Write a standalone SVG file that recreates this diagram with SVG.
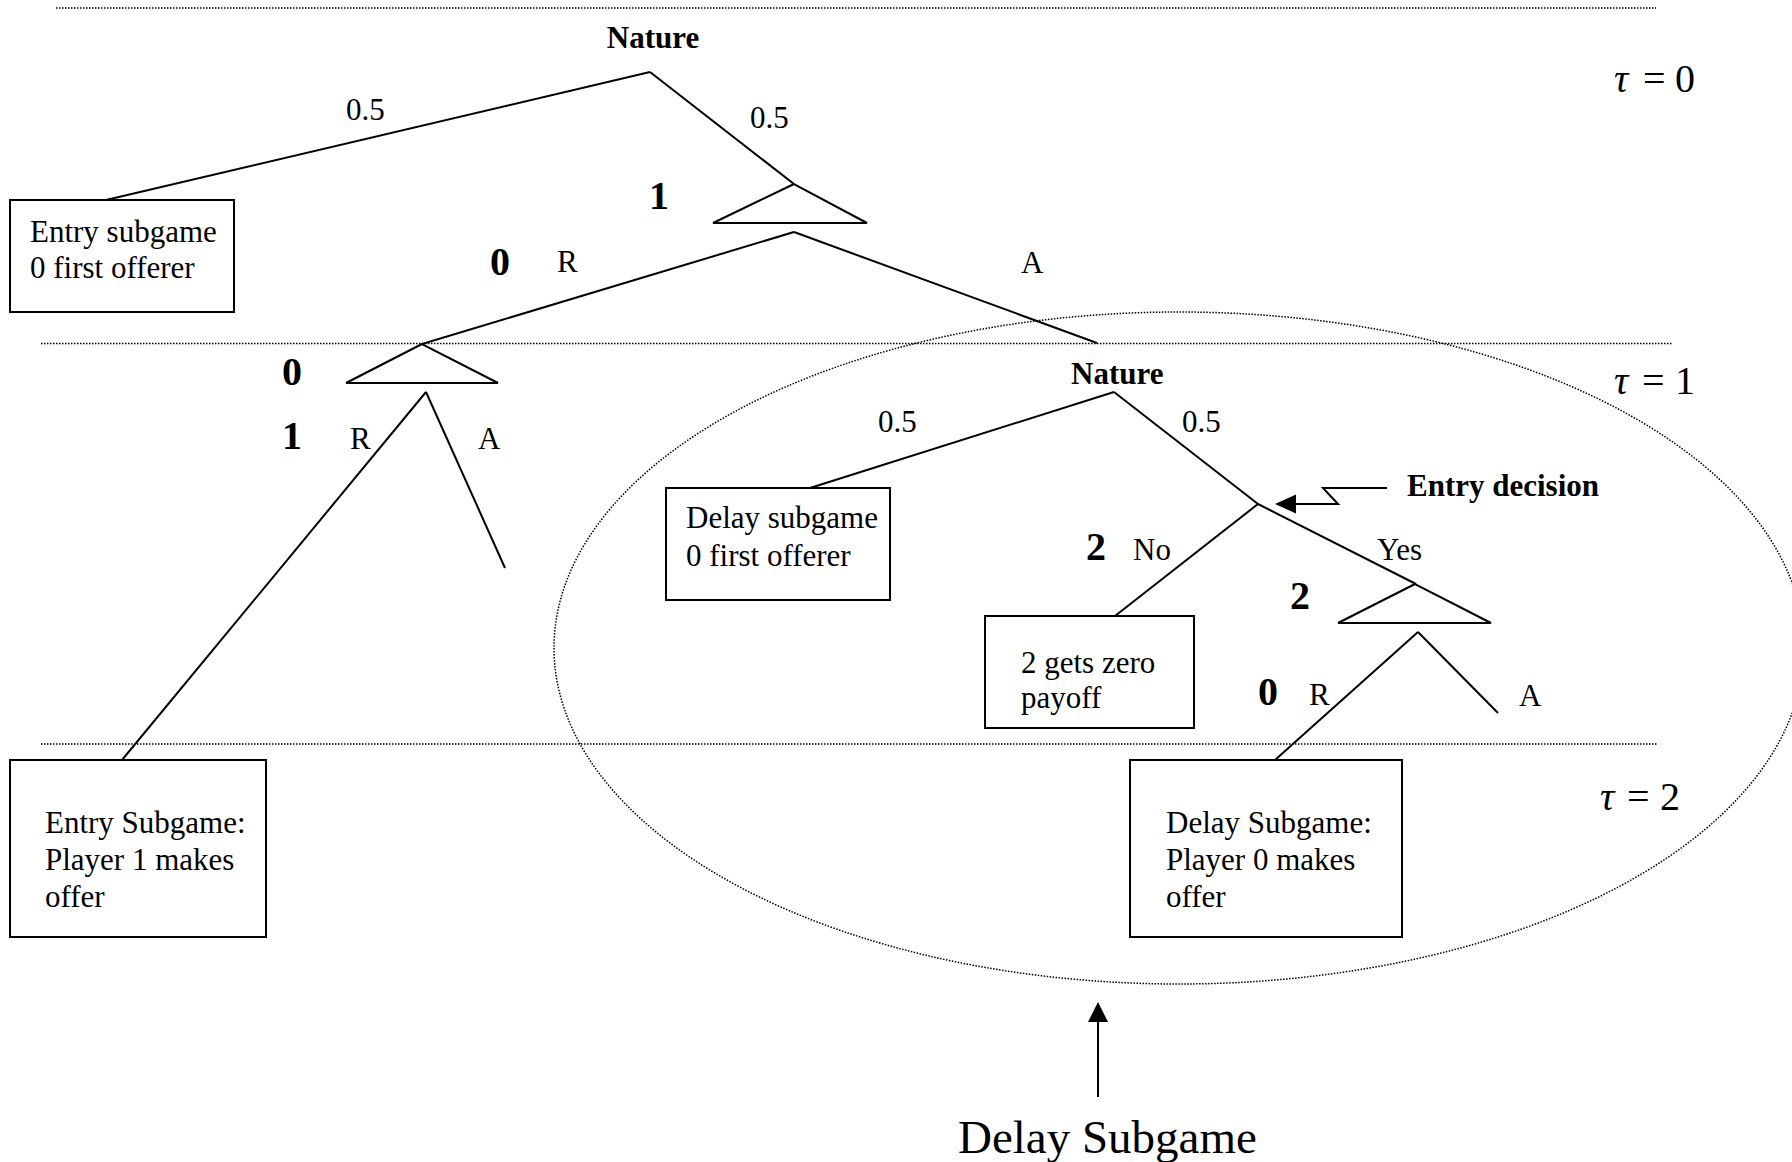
<svg xmlns="http://www.w3.org/2000/svg" width="1792" height="1162" viewBox="0 0 1792 1162">
<defs>
<style>
.t{font-family:"Liberation Serif","Times New Roman",serif;font-size:31px;fill:#000}
.b{font-family:"Liberation Serif","Times New Roman",serif;font-size:31px;font-weight:bold;fill:#000}
.n{font-family:"Liberation Serif","Times New Roman",serif;font-size:40px;font-weight:bold;fill:#000}
.tau{font-family:"Liberation Serif","Times New Roman",serif;font-size:40px;fill:#000}
.big{font-family:"Liberation Serif","Times New Roman",serif;font-size:47px;fill:#000}
.e{stroke:#000;stroke-width:2;fill:none}
.box{stroke:#000;stroke-width:2;fill:#fff}
.tri{stroke:#000;stroke-width:2;fill:none;stroke-linejoin:miter}
.dot{stroke:#000;stroke-width:1.5;stroke-dasharray:1.5 1.5;fill:none}
</style>
</defs>
<rect width="1792" height="1162" fill="#fff"/>
<g id="period-lines">
<line class="dot" x1="56" y1="8" x2="1656" y2="8"/>
<line class="dot" x1="41" y1="343.5" x2="1673" y2="343.5"/>
<line class="dot" x1="41" y1="744" x2="1657" y2="744"/>
</g>
<g id="delay-region">
<ellipse class="dot" cx="1179" cy="648" rx="625" ry="336" stroke-width="1.3"/>
</g>
<g id="connectors">
<line class="e" x1="650" y1="72" x2="106" y2="200"/>
<line class="e" x1="650" y1="72" x2="794" y2="184"/>
<line class="e" x1="794" y1="232" x2="422" y2="344"/>
<line class="e" x1="794" y1="232" x2="1097" y2="343"/>
<line class="e" x1="426" y1="392" x2="122" y2="760"/>
<line class="e" x1="426" y1="392" x2="505" y2="568"/>
<line class="e" x1="1114" y1="392" x2="810" y2="488"/>
<line class="e" x1="1114" y1="392" x2="1258" y2="504"/>
<line class="e" x1="1258" y1="504" x2="1115" y2="616"/>
<line class="e" x1="1258" y1="504" x2="1416" y2="584"/>
<line class="e" x1="1418" y1="632" x2="1275" y2="760"/>
<line class="e" x1="1418" y1="632" x2="1498" y2="713"/>
</g>
<g id="nature-top">
<text class="b" x="653" y="48" text-anchor="middle">Nature</text>
<text class="t" x="346" y="120">0.5</text>
<text class="t" x="750" y="128">0.5</text>
</g>
<g id="entry-subgame-0">
<rect class="box" x="10" y="200" width="224" height="112"/>
<text class="t" x="30" y="242">Entry subgame</text>
<text class="t" x="30" y="278">0 first offerer</text>
</g>
<g id="node-player1">
<polygon class="tri" points="794,184 713,223 867,223"/>
<text class="n" x="649" y="209">1</text>
<text class="n" x="490" y="275">0</text>
<text class="t" x="557" y="272">R</text>
<text class="t" x="1021" y="273">A</text>
</g>
<g id="node-player0">
<polygon class="tri" points="422,344 346,383 498,383"/>
<text class="n" x="282" y="385">0</text>
<text class="n" x="282" y="449">1</text>
<text class="t" x="350" y="449">R</text>
<text class="t" x="478" y="449">A</text>
</g>
<g id="nature-1">
<text class="b" x="1071" y="384">Nature</text>
<text class="t" x="878" y="432">0.5</text>
<text class="t" x="1182" y="432">0.5</text>
</g>
<g id="delay-subgame-1">
<rect class="box" x="666" y="488" width="224" height="112"/>
<text class="t" x="686" y="528">Delay subgame</text>
<text class="t" x="686" y="566">0 first offerer</text>
</g>
<g id="entry-decision">
<path class="e" d="M1387,488 L1323,488 L1338,504 L1293,504"/>
<polygon points="1275,504 1296,494.5 1296,513.5" fill="#000"/>
<text class="b" x="1407" y="496">Entry decision</text>
<text class="n" x="1086" y="560">2</text>
<text class="t" x="1133" y="560">No</text>
<text class="t" x="1377" y="560">Yes</text>
</g>
<g id="zero-payoff">
<rect class="box" x="985" y="616" width="209" height="112"/>
<text class="t" x="1021" y="673">2 gets zero</text>
<text class="t" x="1021" y="708">payoff</text>
</g>
<g id="node-player2">
<polygon class="tri" points="1415,584 1338,623 1491,623"/>
<text class="n" x="1290" y="609">2</text>
<text class="n" x="1258" y="705">0</text>
<text class="t" x="1309" y="705">R</text>
<text class="t" x="1519" y="706">A</text>
</g>
<g id="entry-subgame-2">
<rect class="box" x="10" y="760" width="256" height="177"/>
<text class="t" x="45" y="833">Entry Subgame:</text>
<text class="t" x="45" y="870">Player 1 makes</text>
<text class="t" x="45" y="907">offer</text>
</g>
<g id="delay-subgame-2">
<rect class="box" x="1130" y="760" width="272" height="177"/>
<text class="t" x="1166" y="833">Delay Subgame:</text>
<text class="t" x="1166" y="870">Player 0 makes</text>
<text class="t" x="1166" y="907">offer</text>
</g>
<g id="tau-labels">
<text class="tau" y="92"><tspan x="1614" font-style="italic">τ</tspan><tspan x="1643">=</tspan><tspan x="1675">0</tspan></text>
<text class="tau" y="394"><tspan x="1614" font-style="italic">τ</tspan><tspan x="1642">=</tspan><tspan x="1675">1</tspan></text>
<text class="tau" y="810"><tspan x="1600" font-style="italic">τ</tspan><tspan x="1627">=</tspan><tspan x="1660">2</tspan></text>
</g>
<g id="delay-subgame-label">
<line class="e" x1="1098" y1="1097" x2="1098" y2="1018"/>
<polygon points="1098,1002 1088,1022 1108,1022" fill="#000"/>
<text class="big" x="958" y="1153">Delay Subgame</text>
</g>
</svg>
